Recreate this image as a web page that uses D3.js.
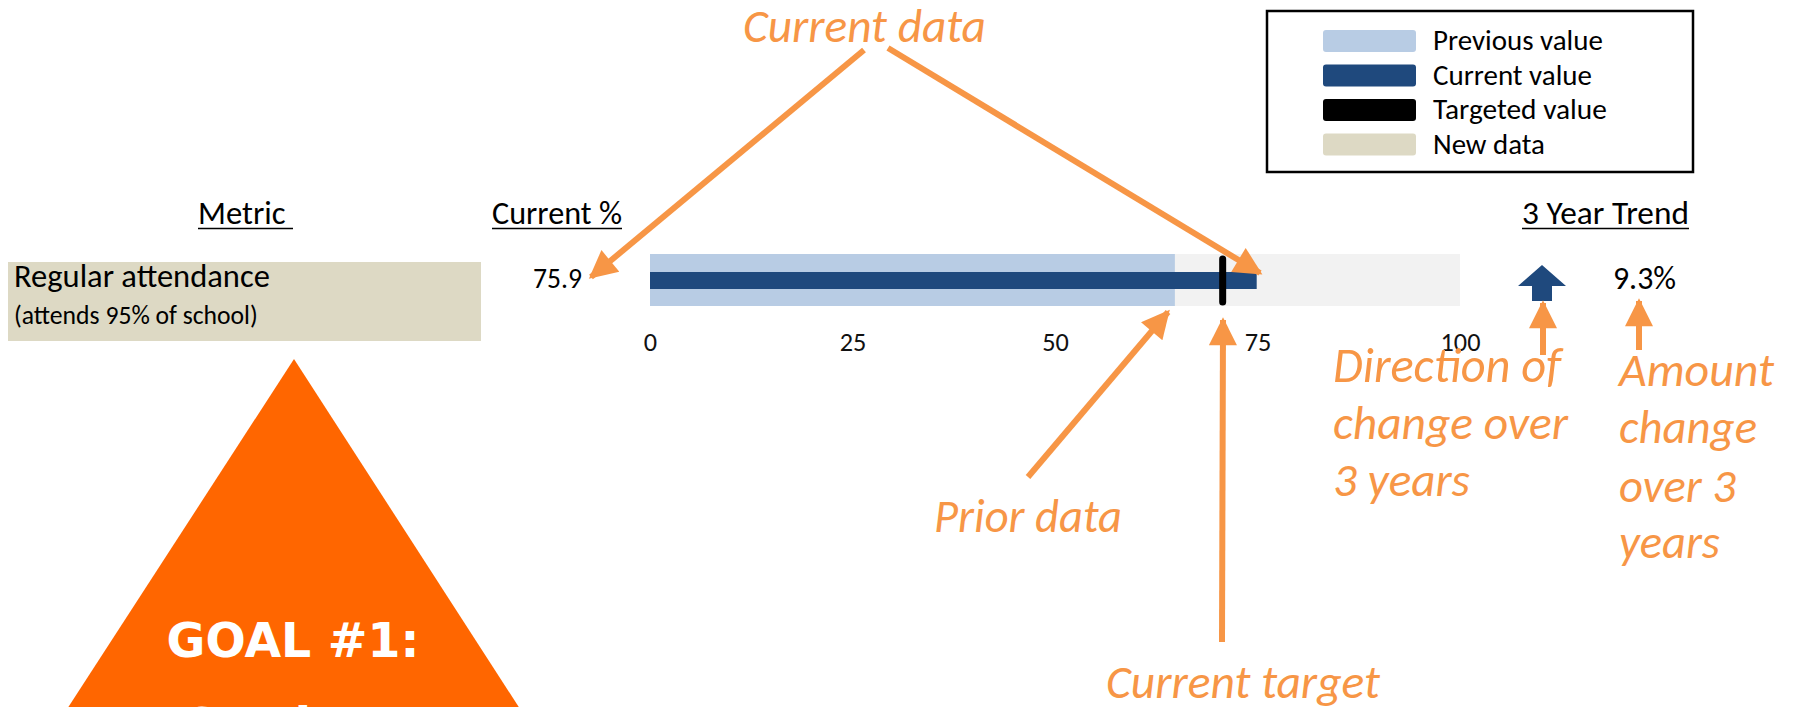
<!DOCTYPE html>
<meta charset="utf-8">
<head>
<style>
  body { margin: 0; background: #fff; }
  svg text { font-family: Carlito, Lato, sans-serif; }
  .note { fill: #F79646; font-style: italic; }
</style>
</head>
<body>
  <script src="https://d3js.org/d3.v7.min.js"></script>
  <script>
    // chart data
    var metrics = ["Regular attendance"];
    var metricNotes = ["(attends 95% of school)"];
    var currentPct = ["75.9"];
    var previousValues = [64.8];
    var currentValues = [74.9];
    var targetValues = [70.7];
    var trendChange = ["9.3%"];
    var trendDirection = ["up"];
    var axisTicks = [0, 25, 50, 75, 100];
    var headers = ["Metric ", "Current %", "3 Year Trend"];
    var legendLabels = ["Previous value", "Current value", "Targeted value", "New data"];

    var width = 1793, height = 707;

    var svg = d3.select("body")
      .append("svg")
      .attr("width", width)
      .attr("height", height);

    // scale text to a measured width
    function fit(sel, w) {
      var cur = sel.node().getComputedTextLength();
      var fs = parseFloat(sel.attr("font-size"));
      sel.attr("font-size", fs * w / cur);
      return sel;
    }

    var x = d3.scaleLinear().domain([0, 100]).range([650, 1460]);

    var navy = "#1F497D", light = "#B8CCE4", grey = "#F2F2F2", beige = "#DDD9C4", orange = "#F79646";

    // headers
    var headerPos = [[198, 95], [492, 130], [1522, 167]];
    headers.forEach(function (h, i) {
      var t = svg.append("text")
        .attr("x", headerPos[i][0]).attr("y", 224)
        .attr("font-size", 30)
        .attr("xml:space", "preserve")
        .text(h);
      fit(t, headerPos[i][1]);
      svg.append("line")
        .attr("x1", headerPos[i][0]).attr("x2", headerPos[i][0] + headerPos[i][1])
        .attr("y1", 228.5).attr("y2", 228.5)
        .attr("stroke", "#000").attr("stroke-width", 1.5);
    });

    // metric cell
    var row = svg.append("g");
    row.append("rect")
      .attr("x", 8).attr("y", 262).attr("width", 473).attr("height", 79)
      .attr("fill", beige);
    fit(row.append("text").attr("x", 14).attr("y", 287).attr("font-size", 30).text(metrics[0]), 256);
    fit(row.append("text").attr("x", 14).attr("y", 324).attr("font-size", 22).text(metricNotes[0]), 244);
    fit(row.append("text").attr("x", 582).attr("y", 288).attr("text-anchor", "end")
      .attr("font-size", 26).text(currentPct[0]), 49);

    // bullet
    var bullet = svg.append("g");
    bullet.append("rect")
      .attr("x", x(0)).attr("y", 254).attr("width", x(100) - x(0)).attr("height", 52)
      .attr("fill", grey);
    bullet.selectAll("rect.prev").data(previousValues).enter().append("rect")
      .attr("class", "prev")
      .attr("x", x(0)).attr("y", 254).attr("width", function (d) { return x(d) - x(0); }).attr("height", 52)
      .attr("fill", light);
    bullet.selectAll("rect.cur").data(currentValues).enter().append("rect")
      .attr("class", "cur")
      .attr("x", x(0)).attr("y", 272).attr("width", function (d) { return x(d) - x(0); }).attr("height", 17)
      .attr("fill", navy);
    bullet.selectAll("line.target").data(targetValues).enter().append("line")
      .attr("class", "target")
      .attr("x1", function (d) { return x(d); }).attr("x2", function (d) { return x(d); })
      .attr("y1", 259).attr("y2", 302)
      .attr("stroke", "#000").attr("stroke-width", 7).attr("stroke-linecap", "round");

    var axis = svg.append("g")
      .attr("transform", "translate(0,306)")
      .call(d3.axisBottom(x).tickValues(axisTicks).tickSize(0).tickPadding(26));
    axis.select(".domain").remove();
    var tickText = axis.selectAll("text").attr("fill", "#111");
    // size the tick labels so that "100" is as wide as in the picture
    var lastTick = d3.select(tickText.nodes()[tickText.size() - 1]);
    var tw = lastTick.node().getComputedTextLength();
    var tfs = 10 * 40 / tw;
    axis.attr("font-size", tfs).attr("font-family", "Carlito, Lato, sans-serif");
    tickText.attr("font-size", tfs);

    // trend
    var ax = 1542;
    svg.selectAll("path.trend").data(trendDirection).enter().append("path")
      .attr("class", "trend")
      .attr("d", "M" + ax + ",265 L" + (ax + 24) + ",286 L" + (ax + 10) + ",286 L" + (ax + 10) + ",301 L" + (ax - 10) + ",301 L" + (ax - 10) + ",286 L" + (ax - 24) + ",286 Z")
      .attr("fill", navy);
    fit(svg.append("text").attr("x", 1613).attr("y", 289).attr("font-size", 28).text(trendChange[0]), 63);

    // legend
    var legendColors = [light, navy, "#000", beige];
    var legend = svg.append("g");
    legend.append("rect")
      .attr("x", 1267).attr("y", 11).attr("width", 426).attr("height", 161)
      .attr("fill", "none").attr("stroke", "#000").attr("stroke-width", 2.5);
    var legendWidths = [170, 159, 174, 112];
    legendLabels.forEach(function (l, i) {
      var y0 = 30 + i * 34.5;
      legend.append("rect")
        .attr("x", 1323).attr("y", y0).attr("width", 93).attr("height", 22).attr("rx", 3)
        .attr("fill", legendColors[i]);
      fit(legend.append("text").attr("x", 1433).attr("y", y0 + 20).attr("font-size", 24).text(l), legendWidths[i]);
    });

    // orange annotations
    svg.append("defs").append("marker")
      .attr("id", "head")
      .attr("viewBox", "0 0 10 10")
      .attr("refX", 9).attr("refY", 5)
      .attr("markerUnits", "userSpaceOnUse")
      .attr("markerWidth", 30).attr("markerHeight", 28)
      .attr("orient", "auto")
      .append("path").attr("d", "M0,0 L10,5 L0,10 Z").attr("fill", orange);

    var arrows = [
      [864, 50, 591, 277],
      [888, 48, 1260, 273],
      [1028, 477, 1168, 312],
      [1222, 642, 1223, 320],
      [1543, 355, 1543, 303],
      [1639, 350, 1639, 301]
    ];
    svg.selectAll("line.arrow").data(arrows).enter().append("line")
      .attr("class", "arrow")
      .attr("x1", function (d) { return d[0]; }).attr("y1", function (d) { return d[1]; })
      .attr("x2", function (d) { return d[2]; }).attr("y2", function (d) { return d[3]; })
      .attr("stroke", orange).attr("stroke-width", 6)
      .attr("marker-end", "url(#head)");

    var notes = [
      ["Current data", 743, 42, 243],
      ["Prior data", 934, 532, 188],
      ["Current target", 1106, 698, 274],
      ["Direction of", 1333, 382, 228],
      ["change over", 1333, 439, 235],
      ["3 years", 1333, 496, 137],
      ["Amount", 1619, 386, 155],
      ["change", 1619, 443, 138],
      ["over 3", 1619, 502, 117],
      ["years", 1619, 558, 101]
    ];
    notes.forEach(function (n) {
      fit(svg.append("text").attr("class", "note")
        .attr("x", n[1]).attr("y", n[2]).attr("font-size", 44).text(n[0]), n[3]);
    });

    // goal triangle
    svg.append("path")
      .attr("d", "M294,359 L34,760 L553,760 Z")
      .attr("fill", "#FF6600");
    fit(svg.append("text").attr("x", 293).attr("y", 657).attr("text-anchor", "middle")
      .attr("font-size", 48).attr("font-weight", "bold")
      .style("font-family", "'DejaVu Sans', sans-serif")
      .attr("fill", "#fff").text("GOAL #1:"), 253);
    svg.append("text").attr("x", 293).attr("y", 742).attr("text-anchor", "middle")
      .attr("font-size", 48).attr("font-weight", "bold")
      .style("font-family", "'DejaVu Sans', sans-serif")
      .attr("fill", "#fff").text("Student");
  </script>
</body>
</html>
